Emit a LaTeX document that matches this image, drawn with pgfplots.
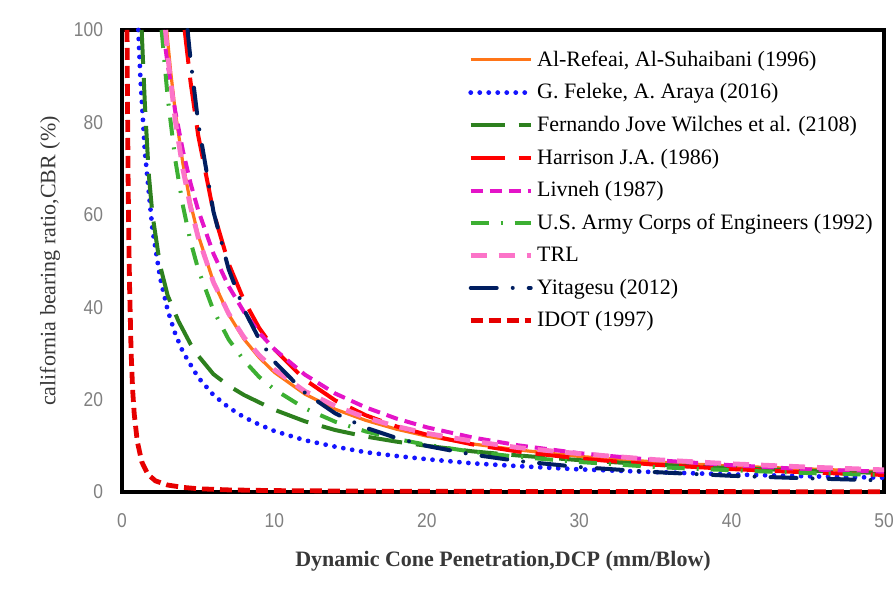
\documentclass[border=0pt]{standalone}
\usepackage{pgfplots}
\pgfplotsset{compat=1.18}
\usepackage{fontspec}
\setmainfont{Liberation Serif}
\newfontfamily\ticksans[FakeStretch=0.87]{Liberation Sans}

\definecolor{cOrange}{RGB}{255,117,24}
\definecolor{cBlue}{RGB}{20,20,255}
\definecolor{cDkGreen}{RGB}{45,128,30}
\definecolor{cRed}{RGB}{255,0,0}
\definecolor{cMagenta}{RGB}{228,20,200}
\definecolor{cLtGreen}{RGB}{60,175,50}
\definecolor{cPink}{RGB}{252,115,200}
\definecolor{cNavy}{RGB}{0,30,96}
\definecolor{cIdot}{RGB}{230,0,0}

\begin{document}
\begin{tikzpicture}
\begin{axis}[%
width=381pt,
height=231pt,
at={(0pt,0pt)},
scale only axis,
clip=false,
xmin=0, xmax=50,
ymin=0, ymax=100,
xtick={0,10,...,50},
ytick={0,20,...,100},
major tick length=0pt,
axis line style={line width=2pt, black},
/pgf/number format/assume math mode=true,
tick label style={font=\ticksans\fontsize{10}{12}\selectfont, text=black!50},
xticklabel style={yshift=-7pt},
yticklabel style={xshift=-6pt},
xlabel={Dynamic Cone Penetration,DCP (mm/Blow)},
xlabel style={font=\bfseries\fontsize{11}{13}\selectfont, text=black!78, yshift=-5pt},
ylabel={california bearing ratio,CBR (\%)},
ylabel style={font=\fontsize{11}{13}\selectfont, text=black!78, yshift=0pt},
legend style={draw=none, fill=none, at={(axis description cs:0.454,0.965)}, anchor=north west,
  font=\fontsize{11}{13}\selectfont, row sep=3.2pt, inner sep=0pt},
legend cell align=left,
legend image code/.code={\draw[#1] (0pt,0pt) -- (30pt,0pt);},
]
\addplot[color=cOrange, line width=1.6pt] coordinates {
(2.93,100) (3.2,90.8) (3.5,82.2) (4,71.0) (4.5,62.4) (5,55.6) (6,45.5) (7,38.4) (8,33.1) (9,29.1)
(10,25.9) (12,21.2) (14,17.9) (16,15.5) (18,13.6) (20,12.1) (23,10.4) (26,9.1) (30,7.7)
(35,6.5) (40,5.6) (45,5.0) (50,4.4)};
\addlegendentry{Al-Refeai, Al-Suhaibani (1996)}

\addplot[color=cBlue, line width=2.4pt, line cap=round, dash pattern=on 0pt off 4.5pt] coordinates {
(1.07,100) (1.2,90.2) (1.5,73.7) (2,56.8) (2.5,46.4) (3,39.3) (3.5,34.2) (4,30.3) (5,24.8)
(6,21.0) (7,18.3) (8,16.2) (9,14.6) (10,13.2) (12,11.2) (14,9.8) (16,8.6) (18,7.8) (20,7.1)
(23,6.2) (26,5.6) (30,4.9) (35,4.3) (40,3.8) (45,3.4) (50,3.1)};
\addlegendentry{G. Feleke, A. Araya (2016)}

\addplot[color=cDkGreen, line width=2pt, dash pattern=on 17pt off 7pt] coordinates {
(1.29,100) (1.5,84) (1.75,69) (2,60) (2.5,49) (3,42.5) (3.7,37) (4.5,32) (5,29.5) (6,25.5)
(7,23) (8,21) (9,19.4) (10,17.8) (12,15.3) (14,13.4) (16,12.0) (18,10.9) (20,10.0) (23,8.8)
(26,7.9) (30,6.9) (35,5.9) (40,5.2) (45,4.6) (50,4.1)};
\addlegendentry{Fernando Jove Wilches et al. (2108)}

\addplot[color=cRed, line width=2pt, dash pattern=on 17pt off 7pt] coordinates {
(4.11,100) (4.5,88.7) (5,77.2) (6,60.6) (7,49.4) (8,41.5) (9,35.5) (10,30.9) (12,24.3)
(14,19.8) (16,16.6) (18,14.2) (20,12.4) (23,10.3) (26,8.75) (30,7.25) (35,5.9) (40,4.96)
(45,4.24) (50,3.69)};
\addlegendentry{Harrison J.A. (1986)}

\addplot[color=cMagenta, line width=2pt, dash pattern=on 6pt off 3.5pt] coordinates {
(2.69,100) (3,92.5) (3.5,82.3) (4,73.8) (4.5,66.8) (5,61.0) (6,51.6) (7,44.5) (8,39.0)
(9,34.5) (10,30.9) (12,25.4) (14,21.3) (16,18.3) (18,15.9) (20,14.0) (23,11.8) (26,10.1)
(30,8.4) (35,6.9) (40,5.8) (45,4.9) (50,4.4)};
\addlegendentry{Livneh (1987)}

\addplot[color=cLtGreen, line width=2pt, dash pattern=on 9pt off 6pt on 1pt off 6pt] coordinates {
(2.6,100) (3,85.3) (3.5,71.8) (4,61.9) (4.5,54.2) (5,48.2) (6,39.3) (7,33.0) (8,28.5) (9,24.9)
(10,22.2) (12,18.1) (14,15.2) (16,13.1) (18,11.5) (20,10.2) (23,8.7) (26,7.6) (30,6.5)
(35,5.4) (40,4.7) (45,4.1) (50,3.65)};
\addlegendentry{U.S. Army Corps of Engineers (1992)}

\addplot[color=cPink, line width=2.4pt, dash pattern=on 8pt off 6pt] coordinates {
(2.85,100) (3,94.4) (3.5,80.3) (4,69.8) (4.5,61.6) (5,55.1) (6,45.4) (7,38.6) (8,33.5) (9,29.6)
(10,26.5) (12,21.8) (14,18.6) (16,16.1) (18,14.2) (20,12.7) (23,11.0) (26,9.6) (30,8.3)
(35,7.0) (40,6.1) (45,5.4) (50,4.8)};
\addlegendentry{TRL}

\addplot[color=cNavy, line width=2pt, line cap=round, dash pattern=on 13pt off 8pt on 0pt off 8pt] coordinates {
(4.3,100) (4.5,93.5) (5,79.9) (6,60.7) (7,48.2) (8,39.5) (9,33.1) (10,28.2) (12,21.5) (14,17.0)
(16,13.9) (18,11.7) (20,9.97) (23,8.1) (26,6.7) (30,5.4) (35,4.3) (40,3.5) (45,2.95) (50,2.5)};
\addlegendentry{Yitagesu (2012)}

\addplot[color=cIdot, line width=2.4pt, dash pattern=on 6pt off 3pt] coordinates {
(0.33,100) (0.36,85) (0.4,68) (0.45,54) (0.5,44) (0.6,30) (0.7,22) (0.8,17) (1,11) (1.3,6.5)
(1.7,3.8) (2.2,2.4) (3,1.5) (4,1.0) (5,0.7) (7,0.45) (10,0.3) (15,0.2) (20,0.15) (30,0.1) (50,0.05)};
\addlegendentry{IDOT (1997)}
\end{axis}
% page size: 447pt x 296pt, as in the reference
\pgfresetboundingbox
\useasboundingbox (-61pt,-50pt) rectangle (386pt,246pt);
\end{tikzpicture}
\end{document}
